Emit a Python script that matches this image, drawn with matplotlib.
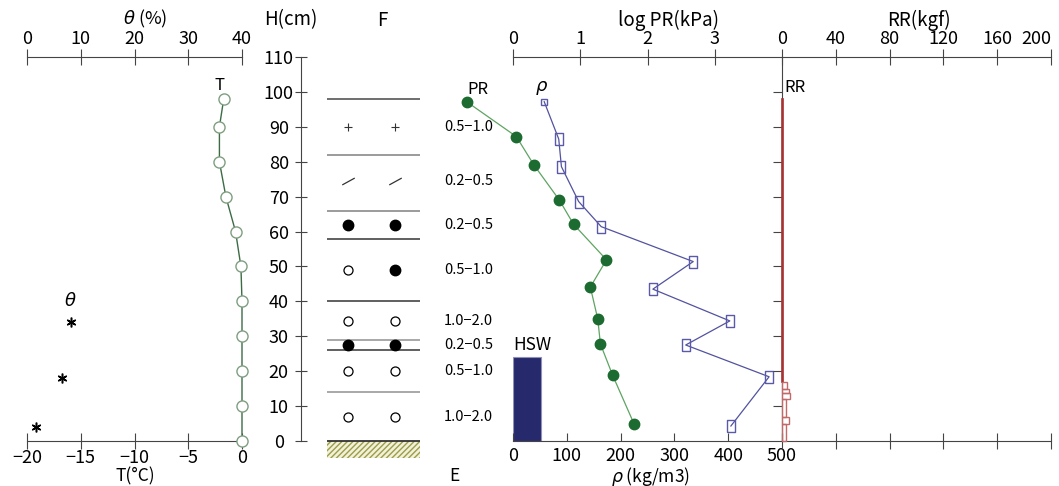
import numpy as np
import matplotlib
matplotlib.use('Agg')
from matplotlib import pyplot as plt
from matplotlib.path import Path
from matplotlib.patches import Rectangle

plt.rcParams['font.family'] = ['Noto Sans CJK JP', 'DejaVu Sans']

# snow temperature (deg C) by height (cm)
t_height = [98, 90, 80, 70, 60, 50, 40, 30, 20, 10, 0]
t_temp = [-1.7, -2.1, -2.1, -1.5, -0.6, -0.1, 0.0, 0.0, 0.0, 0.0, 0.0]

# liquid water content (%)
theta_height = [34, 18, 4]
theta_val = [8.2, 6.5, 1.7]

# layer boundaries (cm)
layer_tops = [98, 82, 66, 58, 40, 29, 26, 14]

# grain shape per layer (two symbols) and grain size (mm)
grain_height = [90, 74.5, 62, 49, 34.5, 27.5, 20, 7]
grain_left = ['plus', 'slash', 'filled', 'open', 'open', 'filled', 'open', 'open']
grain_right = ['plus', 'slash', 'filled', 'filled', 'open', 'filled', 'open', 'open']
grain_size = ['0.5−1.0', '0.2−0.5', '0.2−0.5', '0.5−1.0',
              '1.0−2.0', '0.2−0.5', '0.5−1.0', '1.0−2.0']

# push gauge hardness, log10(kPa)
pr_height = [97.2, 87.2, 79.1, 69.0, 62.1, 51.9, 44.1, 35.0, 27.8, 18.9, 4.9]
pr_log = [-0.69, 0.05, 0.31, 0.69, 0.90, 1.39, 1.15, 1.26, 1.30, 1.48, 1.80]

# density (kg/m3)
rho_height = [97.2, 86.5, 78.6, 68.6, 61.4, 51.4, 43.5, 34.4, 27.5, 18.4, 4.3]
rho_val = [58, 85, 90, 122, 164, 335, 260, 403, 321, 476, 405]

# water equivalent bar
hsw = 24

# ram hardness (kgf) per segment
rr_top = [98, 16.9, 14.9, 13.8, 12.0, 6.9, 4.9]
rr_bottom = [16.9, 14.9, 13.8, 12.0, 6.9, 4.9, 0]
rr_val = [0.7, 3.7, 5.0, 6.0, 3.3, 5.0, 3.0]

AX = '#444444'
TICK_FS = 13
W, H = 1059, 486
fig = plt.figure(figsize=(W / 100, H / 100), dpi=100)


def rect(x0, x1, y0=57, y1=441):
    return [x0 / W, 1 - y1 / H, (x1 - x0) / W, (y1 - y0) / H]


def only_spines(ax, keep):
    for k, s in ax.spines.items():
        s.set_visible(k in keep)
        s.set_color(AX)
    ax.set_facecolor('none')


def label(x, y, s, size=13.5):
    fig.text(x / W, 1 - y / H, s, ha='center', va='center', fontsize=size)


# ---- temperature / water content panel ----
ax_t = fig.add_axes(rect(27, 242))
ax_t.set_xlim(-20, 0)
ax_t.set_ylim(0, 110)
only_spines(ax_t, ['bottom'])
ax_t.set_xticks([-20, -15, -10, -5, 0])
ax_t.set_yticks([])
ax_t.tick_params(axis='x', direction='inout', length=12, color=AX, labelsize=TICK_FS, pad=0)
ax_t.plot(t_temp, t_height, color='#3c6b46', lw=1.0, marker='o', ms=8,
          mfc='white', mec='#7f9e80', mew=1.0, clip_on=False, zorder=3)
ax_t.text(-2.1, 101.7, 'T', ha='center', va='center', fontsize=12)

ax_th = ax_t.twiny()
ax_th.set_xlim(0, 40)
only_spines(ax_th, ['top'])
ax_th.set_xticks([0, 10, 20, 30, 40])
ax_th.tick_params(axis='x', direction='inout', length=11, color=AX, labelsize=TICK_FS, pad=1)
ax_th.plot(theta_val, theta_height, ls='none', marker=(6, 2, 0), ms=7, mew=1.1,
           color='black', clip_on=False)
ax_th.text(8.0, 40, r'$\theta$', ha='center', va='center', fontsize=13)

# ---- height axis and stratigraphy ----
ax_f = fig.add_axes(rect(301, 420))
ax_f.set_xlim(0, 1)
ax_f.set_ylim(0, 110)
only_spines(ax_f, ['left'])
ax_f.set_xticks([])
ax_f.set_yticks(np.arange(0, 111, 10))
ax_f.tick_params(axis='y', direction='inout', length=8, color=AX, labelsize=TICK_FS, pad=12)
for lbl in ax_f.get_yticklabels():
    lbl.set_horizontalalignment('center')

line_colors = ['#555555', '#8a8a8a', '#8a8a8a', '#444444',
               '#444444', '#999999', '#444444', '#999999']
ax_f.hlines(layer_tops, 0.218, 1.0, colors=line_colors, lw=1.2)
ax_f.add_patch(Rectangle((0.218, -5), 0.782, 5, facecolor='#f2f2da',
                         edgecolor='#9c9c48', hatch='//////', lw=0, clip_on=False))
ax_f.hlines(0, 0.218, 1.0, colors='#333333', lw=1.3, clip_on=False)

slash = Path([(-1, -0.55), (1, 0.55)], [Path.MOVETO, Path.LINETO])
grain_style = {
    'plus': dict(marker='+', ms=6, mew=0.8, color='#333333'),
    'slash': dict(marker=slash, ms=9, mew=0.9, color='#333333'),
    'filled': dict(marker='o', ms=7.5, mfc='black', mec='black'),
    'open': dict(marker='o', ms=6.5, mfc='white', mec='black', mew=0.9),
}
for h, gl, gr, gs in zip(grain_height, grain_left, grain_right, grain_size):
    ax_f.plot([0.395], [h], ls='none', **grain_style[gl])
    ax_f.plot([0.79], [h], ls='none', **grain_style[gr])
    ax_f.text(1.2, h, gs, ha='left', va='center', fontsize=10.5, clip_on=False)

# ---- density / push gauge panel ----
ax_rho = fig.add_axes(rect(513, 782))
ax_rho.set_xlim(0, 500)
ax_rho.set_ylim(0, 110)
only_spines(ax_rho, ['bottom'])
ax_rho.set_xticks([0, 100, 200, 300, 400, 500])
ax_rho.set_yticks([])
ax_rho.tick_params(axis='x', direction='in', length=6, color=AX, labelsize=TICK_FS, pad=4)
ax_rho.bar(0, hsw, width=52, align='edge', color='#26296b', edgecolor='#9090b8', lw=0.8)
ax_rho.text(35, 27.5, 'HSW', ha='center', va='center', fontsize=12.5)

rect_marker = [(-0.32, -0.5), (0.32, -0.5), (0.32, 0.5), (-0.32, 0.5), (-0.32, -0.5)]
ax_rho.plot(rho_val, rho_height, color='#5252a0', lw=0.9, zorder=3)
ax_rho.plot(rho_val[:1], rho_height[:1], ls='none', marker='s', ms=5,
            mfc='none', mec='#5a5aa8', mew=1.0, zorder=4)
ax_rho.plot(rho_val[1:], rho_height[1:], ls='none', marker=rect_marker, ms=8,
            mfc='none', mec='#5a5aa8', mew=1.0, zorder=4)
ax_rho.text(54, 101.1, r'$\rho$', ha='center', va='center', fontsize=13)

ax_pr = ax_rho.twiny()
ax_pr.set_xlim(0, 4)
only_spines(ax_pr, ['top'])
ax_pr.set_xticks([0, 1, 2, 3])
ax_pr.tick_params(axis='x', direction='inout', length=11, color=AX, labelsize=TICK_FS, pad=1)
ax_pr.plot(pr_log, pr_height, color='#5ea462', lw=0.9, marker='o', ms=7.5,
           mfc='#1c6b30', mec='#1c6b30', clip_on=False, zorder=3)
ax_pr.text(-0.52, 100.6, 'PR', ha='center', va='center', fontsize=12)

# ---- ram hardness panel ----
ax_rr = fig.add_axes(rect(782, 1051))
ax_rr.set_xlim(0, 200)
ax_rr.set_ylim(0, 110)
only_spines(ax_rr, ['top', 'left', 'bottom'])
ax_rr.xaxis.set_ticks_position('both')
ax_rr.set_xticks([0, 40, 80, 120, 160, 200])
ax_rr.tick_params(axis='x', which='both', direction='inout', color=AX,
                  labeltop=True, labelbottom=False, labelsize=TICK_FS, pad=1)
ax_rr.tick_params(axis='x', top=True, length=11)
fig.canvas.draw()
ax_rr.xaxis.get_major_ticks()[-1].label2.set_horizontalalignment('right')
ax_rr.set_yticks(np.arange(10, 101, 10))
ax_rr.tick_params(axis='y', direction='out', length=6.5, color=AX, labelleft=False)
rr_heights = np.array(rr_top) - np.array(rr_bottom)
rr_colors = ['#a83232'] + ['#c06a6a'] * (len(rr_val) - 1)
rr_lw = [1.2] + [1.0] * (len(rr_val) - 1)
ax_rr.barh(rr_bottom, rr_val, height=rr_heights, left=0, align='edge',
           facecolor='none', edgecolor=rr_colors, linewidth=rr_lw, clip_on=False, zorder=3)
ax_rr.text(1.5, 101.4, 'RR', ha='left', va='center', fontsize=12)

# ---- titles ----
label(145, 19, r'$\theta$ (%)', 13)
label(291, 20, 'H(cm)')
label(382, 20, 'F')
label(668, 20, 'log PR(kPa)')
label(919, 20, 'RR(kgf)')
label(135, 476, 'T(°C)', 12.5)
label(454, 476, 'E', 12.5)
label(650, 476, r'$\rho$ (kg/m3)', 12.5)

fig.savefig('out.png', dpi=100)
